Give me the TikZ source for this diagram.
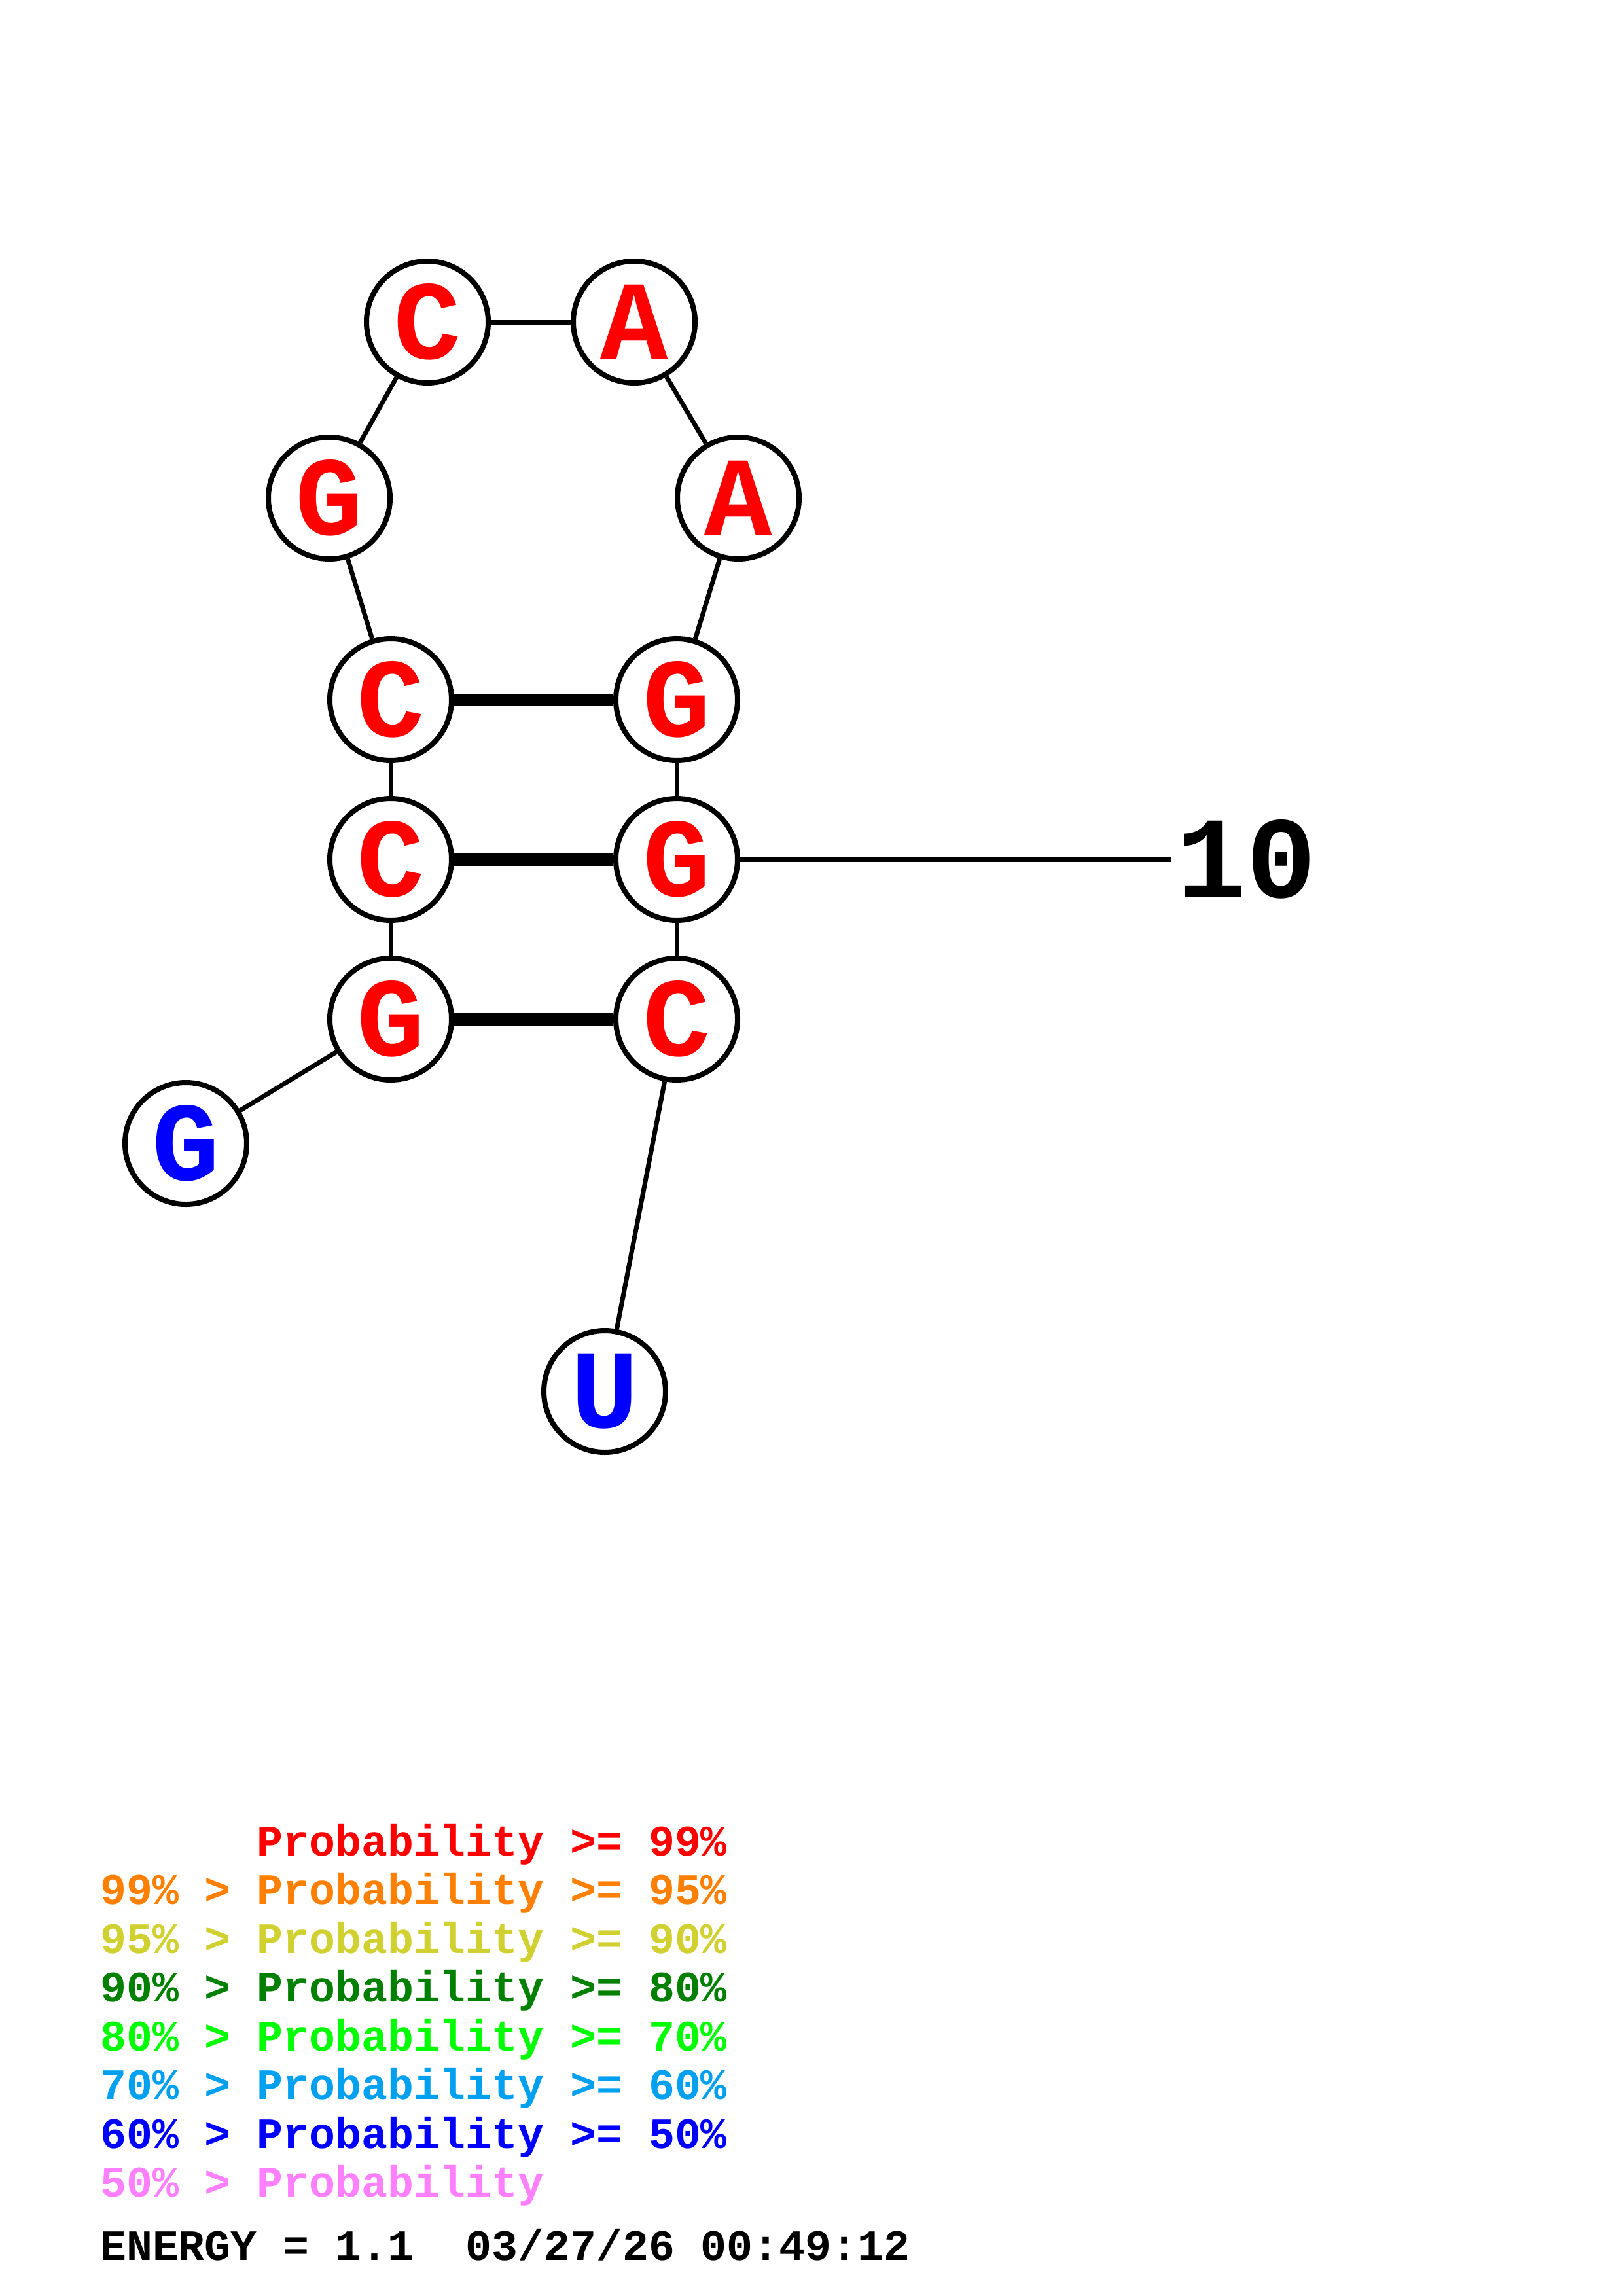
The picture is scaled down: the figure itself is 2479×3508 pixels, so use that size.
\documentclass[tikz,border=0pt]{standalone}
\usepackage{fontspec}
\newfontfamily\cour{Liberation Mono}
\definecolor{pr99}{RGB}{255,0,0}
\definecolor{pr95}{RGB}{255,128,0}
\definecolor{pr90}{RGB}{208,208,48}
\definecolor{pr80}{RGB}{0,128,0}
\definecolor{pr70}{RGB}{0,255,0}
\definecolor{pr60}{RGB}{0,160,240}
\definecolor{pr50}{RGB}{0,0,255}
\definecolor{prlow}{RGB}{255,128,255}
\tikzset{
  base/.style={circle, draw=black, line width=8pt, fill=white, minimum size=186pt, inner sep=0pt,
    font=\cour\bfseries\fontsize{172}{172}\selectfont},
  hi/.style={base, text=pr99},
  lo/.style={base, text=pr50},
  bb/.style={line width=7pt},
  bp/.style={line width=19pt},
  leg/.style={anchor=base west, inner sep=0pt, font=\cour\bfseries\fontsize{66.5}{66.5}\selectfont}
}
\begin{document}
\begin{tikzpicture}[x=1pt,y=-1pt]
\useasboundingbox (0,0) rectangle (2479,3508);
\fill[white] (0,0) rectangle (2479,3508);
% nodes
\node[lo] (n1) at (284,1747) {G};
\node[hi] (n2) at (597,1557) {G};
\node[hi] (n3) at (597,1313) {C};
\node[hi] (n4) at (597,1069) {C};
\node[hi] (n5) at (503,761) {G};
\node[hi] (n6) at (653,492) {C};
\node[hi] (n7) at (969,492) {A};
\node[hi] (n8) at (1128,761) {A};
\node[hi] (n9) at (1034,1069) {G};
\node[hi] (n10) at (1034,1313) {G};
\node[hi] (n11) at (1034,1557) {C};
\node[lo] (n12) at (924,2126) {U};
% backbone
\draw[bb] (n1) -- (n2);
\draw[bb] (n2) -- (n3);
\draw[bb] (n3) -- (n4);
\draw[bb] (n4) -- (n5);
\draw[bb] (n5) -- (n6);
\draw[bb] (n6) -- (n7);
\draw[bb] (n7) -- (n8);
\draw[bb] (n8) -- (n9);
\draw[bb] (n9) -- (n10);
\draw[bb] (n10) -- (n11);
\draw[bb] (n11) -- (n12);
% base pairs
\draw[bp] (n4) -- (n9);
\draw[bp] (n3) -- (n10);
\draw[bp] (n2) -- (n11);
% numbering
\node[anchor=west, inner sep=0pt, font=\cour\bfseries\fontsize{178}{178}\selectfont] (lab10) at (1797,1313) {10};
\coordinate (tick) at (1790,1313);
\draw[bb] (n10) -- (tick);
% legend
\node[leg, text=pr99] (l1) at (153,2835) {\phantom{99\% > }Probability >= 99\%};
\node[leg, text=pr95] (l2) at (153,2909.5) {99\% > Probability >= 95\%};
\node[leg, text=pr90] (l3) at (153,2984) {95\% > Probability >= 90\%};
\node[leg, text=pr80] (l4) at (153,3058.5) {90\% > Probability >= 80\%};
\node[leg, text=pr70] (l5) at (153,3133) {80\% > Probability >= 70\%};
\node[leg, text=pr60] (l6) at (153,3207.5) {70\% > Probability >= 60\%};
\node[leg, text=pr50] (l7) at (153,3282) {60\% > Probability >= 50\%};
\node[leg, text=prlow] (l8) at (153,3356.5) {50\% > Probability};
\node[leg, text=black] (en) at (153,3453) {ENERGY = 1.1\ \ 03/27/26 00:49:12};
\end{tikzpicture}
\end{document}
